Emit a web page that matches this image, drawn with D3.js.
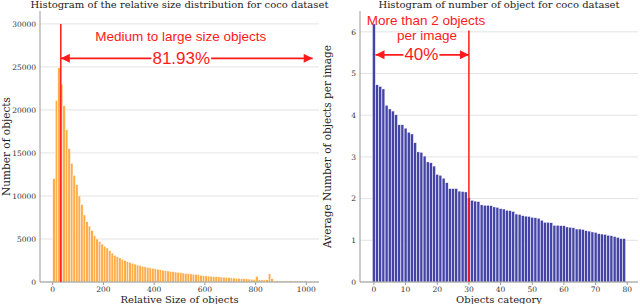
<!DOCTYPE html>
<html>
<head>
<meta charset="utf-8">
<script src="https://cdn.jsdelivr.net/npm/d3@7"></script>
<style>
  body { margin: 0; background: #fff; }
  svg { display: block; }
</style>
</head>
<body>
<div id="content"></div>
<script>
// histogram of relative sizes, bins of 10 from 0 to 1000
const sizeBinWidth = 10;
const sizeCounts = [
    12000, 21100, 24900, 23000, 20500, 17700, 15500, 13800, 12400, 11300,
    10000, 9000, 7800, 7000, 6500, 6000, 5400, 5000, 4700, 4400,
    4150, 3950, 3650, 3350, 3100, 2950, 2800, 2650, 2500, 2380,
    2280, 2180, 2080, 1980, 1900, 1830, 1760, 1700, 1640, 1590,
    1540, 1480, 1420, 1370, 1320, 1280, 1240, 1200, 1160, 1120,
    1080, 1040, 1000, 970, 940, 910, 880, 850, 780, 730,
    710, 690, 670, 640, 620, 600, 580, 560, 540, 500,
    480, 460, 440, 420, 400, 380, 360, 340, 320, 300,
    650, 260, 240, 230, 260, 950, 380, 120, 120, 120,
    120, 120, 120, 120, 120, 120, 120, 120, 120, 120
];
const sizeTicksX = [0, 200, 400, 600, 800, 1000];
const sizeTicksY = [0, 5000, 10000, 15000, 20000, 25000, 30000];

// average number of objects per image, one value per category
const categoryAvg = [
    6.19, 4.73, 4.69, 4.63, 4.24, 4.15, 4.10, 4.01, 3.77, 3.77,
    3.69, 3.59, 3.55, 3.34, 3.12, 3.11, 3.02, 2.88, 2.86, 2.78,
    2.58, 2.56, 2.49, 2.38, 2.24, 2.24, 2.24, 2.18, 2.17, 2.16,
    2.02, 1.96, 1.94, 1.93, 1.85, 1.84, 1.84, 1.83, 1.80, 1.79,
    1.76, 1.75, 1.72, 1.71, 1.69, 1.63, 1.62, 1.59, 1.58, 1.57,
    1.55, 1.54, 1.53, 1.48, 1.43, 1.43, 1.42, 1.36, 1.36, 1.35,
    1.35, 1.32, 1.31, 1.30, 1.27, 1.27, 1.26, 1.23, 1.22, 1.20,
    1.19, 1.16, 1.15, 1.14, 1.12, 1.11, 1.09, 1.07, 1.04, 1.04
];
const catTicksX = [0, 10, 20, 30, 40, 50, 60, 70, 80];
const catTicksY = [0, 1, 2, 3, 4, 5, 6];

const width = 640;
const height = 304;
const serif = '"DejaVu Serif", serif';
const sans = '"Liberation Sans", Arial, sans-serif';
const red = '#ff1a1a';

const fig = d3.select('#content')
    .append('svg')
    .attr('width', width)
    .attr('height', height);

const defs = fig.append('defs');
defs.append('marker')
    .attr('id', 'head')
    .attr('viewBox', '0 0 10 10')
    .attr('refX', 10)
    .attr('refY', 5)
    .attr('markerUnits', 'userSpaceOnUse')
    .attr('markerWidth', 10)
    .attr('markerHeight', 9)
    .attr('orient', 'auto-start-reverse')
    .append('path')
    .attr('d', 'M0,0L10,5L0,10Z')
    .attr('fill', red);

function frame(x, y, xTicks, yTicks, yFmt, box) {
    const g = fig.append('g');
    g.append('g')
        .selectAll('line')
        .data(yTicks)
        .join('line')
        .attr('x1', box.x0).attr('x2', box.x1)
        .attr('y1', (d) => y(d)).attr('y2', (d) => y(d))
        .attr('stroke', '#e3e3e3')
        .attr('stroke-width', 1);
    g.append('g')
        .selectAll('text')
        .data(yTicks)
        .join('text')
        .attr('x', box.x0 - 4)
        .attr('y', (d) => y(d) + 2.7)
        .attr('text-anchor', 'end')
        .attr('font-family', serif)
        .attr('font-size', 7.5)
        .attr('fill', '#333')
        .text(yFmt);
    g.append('g')
        .selectAll('line')
        .data(xTicks)
        .join('line')
        .attr('x1', (d) => x(d)).attr('x2', (d) => x(d))
        .attr('y1', box.y1).attr('y2', box.y1 + 3)
        .attr('stroke', '#999');
    g.append('g')
        .selectAll('text')
        .data(xTicks)
        .join('text')
        .attr('x', (d) => x(d))
        .attr('y', box.y1 + 9.5)
        .attr('text-anchor', 'middle')
        .attr('font-family', serif)
        .attr('font-size', 7.5)
        .attr('fill', '#333')
        .text((d) => d);
    return g;
}

function spines(box) {
    fig.append('line')
        .attr('x1', box.x0).attr('x2', box.x0)
        .attr('y1', box.y0).attr('y2', box.y1)
        .attr('stroke', '#999').attr('stroke-width', 1);
    fig.append('line')
        .attr('x1', box.x0).attr('x2', box.x1)
        .attr('y1', box.y1).attr('y2', box.y1)
        .attr('stroke', '#999').attr('stroke-width', 1);
}

function labels(box, title, xLabel, yLabel, yLabelX) {
    const cx = (box.x0 + box.x1) / 2;
    const cy = (box.y0 + box.y1) / 2;
    fig.append('text')
        .attr('x', cx).attr('y', 8)
        .attr('text-anchor', 'middle')
        .attr('font-family', serif)
        .attr('font-size', 10)
        .attr('fill', '#222')
        .text(title);
    fig.append('text')
        .attr('x', cx).attr('y', 302.5)
        .attr('text-anchor', 'middle')
        .attr('font-family', serif)
        .attr('font-size', 10)
        .attr('fill', '#222')
        .text(xLabel);
    fig.append('text')
        .attr('transform', `translate(${yLabelX},${cy}) rotate(-90)`)
        .attr('text-anchor', 'middle')
        .attr('font-family', serif)
        .attr('font-size', 10.5)
        .attr('fill', '#222')
        .text(yLabel);
}

function arrow(x1, x2, y) {
    fig.append('line')
        .attr('x1', x1).attr('x2', x2)
        .attr('y1', y).attr('y2', y)
        .attr('stroke', red)
        .attr('stroke-width', 1.8)
        .attr('marker-start', 'url(#head)')
        .attr('marker-end', 'url(#head)');
}

function boxedText(x, y, txt, size) {
    const t = fig.append('text')
        .attr('x', x).attr('y', y)
        .attr('text-anchor', 'middle')
        .attr('font-family', sans)
        .attr('font-size', size)
        .attr('fill', red)
        .text(txt);
    const bb = t.node().getBBox();
    fig.insert('rect', () => t.node())
        .attr('x', bb.x - 1).attr('y', bb.y + 2)
        .attr('width', bb.width + 2).attr('height', bb.height - 4)
        .attr('fill', '#fff');
}

function redText(x, y, txt, size) {
    fig.append('text')
        .attr('x', x).attr('y', y)
        .attr('text-anchor', 'middle')
        .attr('font-family', sans)
        .attr('font-size', size)
        .attr('fill', red)
        .text(txt);
}

// ---- left: relative size histogram ----
const boxL = {x0: 40, x1: 319, y0: 11, y1: 282};
const xL = d3.scaleLinear().domain([-50, 1050]).range([boxL.x0, boxL.x1]);
const yL = d3.scaleLinear().domain([0, 31500]).range([boxL.y1, boxL.y0]);

frame(xL, yL, sizeTicksX, sizeTicksY, (d) => d, boxL);

fig.append('g')
    .selectAll('rect')
    .data(sizeCounts)
    .join('rect')
    .attr('x', (d, i) => xL(i * sizeBinWidth))
    .attr('y', (d) => yL(d))
    .attr('width', xL(sizeBinWidth) - xL(0))
    .attr('height', (d) => yL(0) - yL(d))
    .attr('fill', '#ffac4a')
    .attr('stroke', '#fff')
    .attr('stroke-width', 0.45);

spines(boxL);
labels(boxL, 'Histogram of the relative size distribution for coco dataset',
    'Relative Size of objects', 'Number of objects', 10);

fig.append('line')
    .attr('x1', xL(32)).attr('x2', xL(32))
    .attr('y1', yL(0)).attr('y2', yL(30000))
    .attr('stroke', red).attr('stroke-width', 1.5);
arrow(xL(32), xL(1025), yL(26000));
redText(xL(505), 41, 'Medium to large size objects', 13.5);
boxedText(xL(507), 63.5, '81.93%', 17);

// ---- right: objects per image by category ----
const boxR = {x0: 360, x1: 638, y0: 11, y1: 282};
const xR = d3.scaleLinear().domain([-4.39, 83.39]).range([boxR.x0, boxR.x1]);
const yR = d3.scaleLinear().domain([0, 6.5]).range([boxR.y1, boxR.y0]);

frame(xR, yR, catTicksX, catTicksY, (d) => d, boxR);

fig.append('g')
    .selectAll('rect')
    .data(categoryAvg)
    .join('rect')
    .attr('x', (d, i) => xR(i - 0.45))
    .attr('y', (d) => yR(d))
    .attr('width', xR(0.9) - xR(0))
    .attr('height', (d) => yR(0) - yR(d))
    .attr('fill', '#4343a8')
    .attr('stroke', '#fff')
    .attr('stroke-width', 0.4);

spines(boxR);
labels(boxR, 'Histogram of number of object for coco dataset',
    'Objects category', 'Average Number of objects per image', 331);

fig.append('line')
    .attr('x1', xR(30)).attr('x2', xR(30))
    .attr('y1', yR(0)).attr('y2', yR(6.03))
    .attr('stroke', red).attr('stroke-width', 1.5);
arrow(xR(0.5), xR(30), yR(5.45));
redText(426, 25, 'More than 2 objects', 13.5);
redText(427, 40, 'per image', 13.5);
boxedText(xR(15), 60, '40%', 17);
</script>
</body>
</html>
